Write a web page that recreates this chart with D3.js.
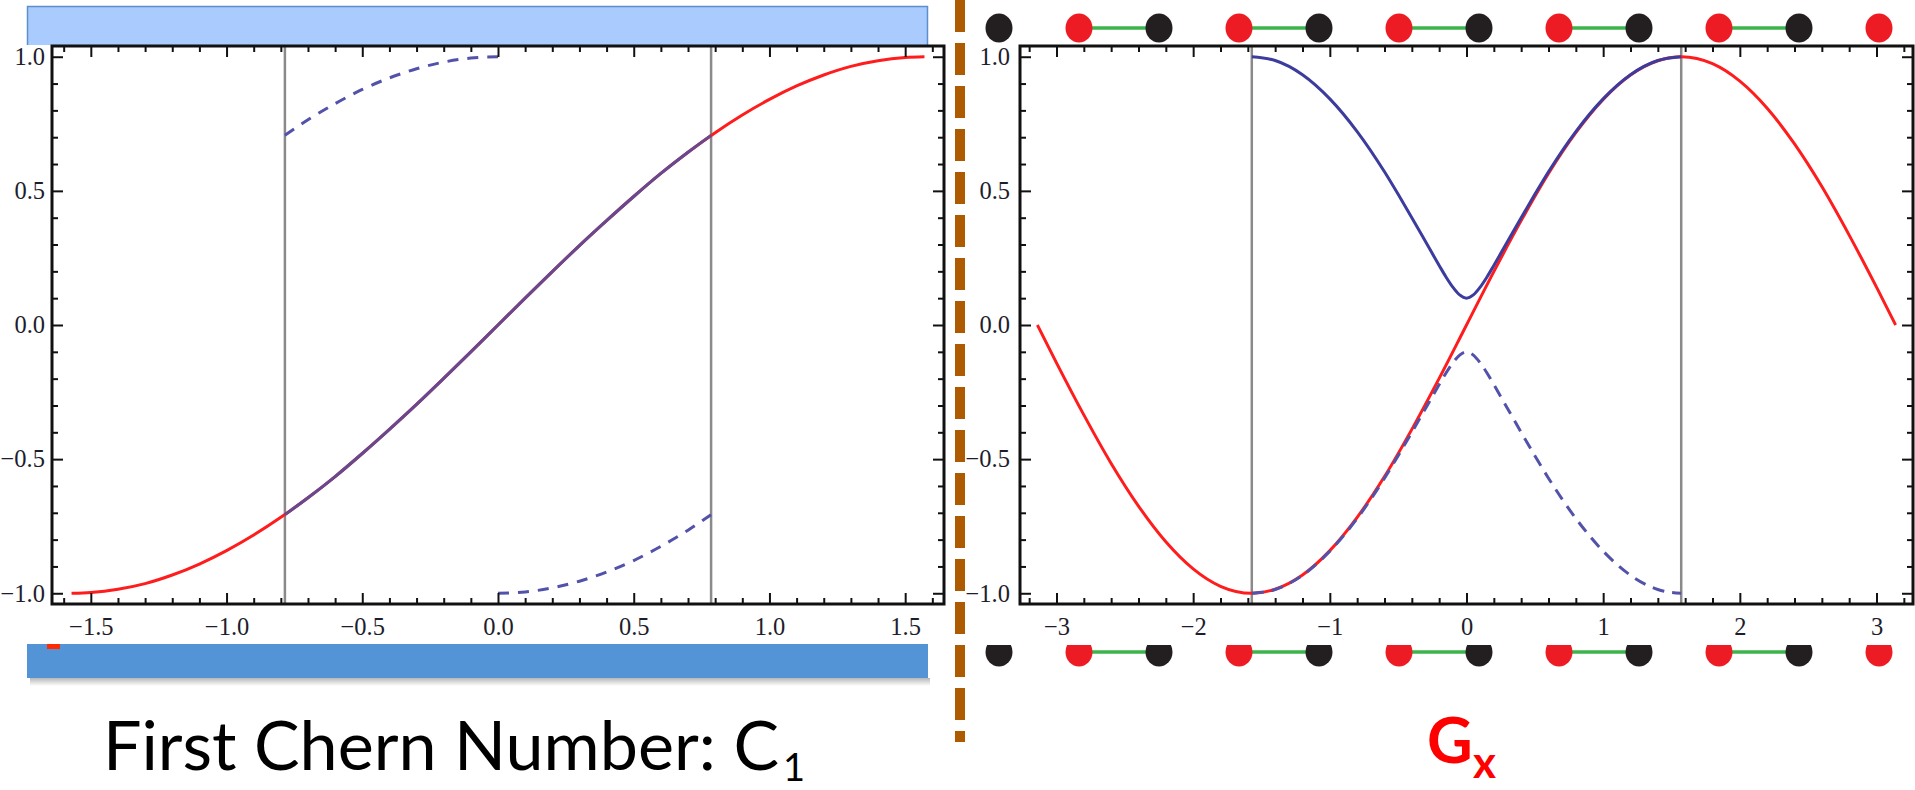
<!DOCTYPE html>
<html lang="en">
<head>
<meta charset="UTF-8">
<title>First Chern Number: C1 / Gx</title>
<style>
    body { margin: 0; background: #fff; }
    svg { display: block; }
    .frame .domain { display: none; }
    .frame .tick line { stroke: #111; stroke-width: 2px; }
    .frame text {
        font-family: "Liberation Serif", "Times New Roman", serif;
        font-size: 24.5px;
        fill: #1d1d2d;
    }
    .curve { fill: none; stroke-width: 3px; stroke-linejoin: round; stroke-linecap: butt; }
</style>
<script src="https://d3js.org/d3.v7.min.js"></script>
</head>
<body>
<svg width="1915" height="790"></svg>
<script>
    // ---- left plot (C1) ----
    var leftX   = [-1.571, -1.5, -1.4, -1.3, -1.2, -1.1, -1.0, -0.9, -0.8, -0.7, -0.6, -0.5, -0.4, -0.3, -0.2, -0.1,
                   0, 0.1, 0.2, 0.3, 0.4, 0.5, 0.6, 0.7, 0.8, 0.9, 1.0, 1.1, 1.2, 1.3, 1.4, 1.5, 1.571];
    var leftRed = [-1.0, -0.997, -0.985, -0.964, -0.932, -0.891, -0.841, -0.783, -0.717, -0.644, -0.565, -0.479, -0.389, -0.296, -0.199, -0.100,
                   0.0, 0.100, 0.199, 0.296, 0.389, 0.479, 0.565, 0.644, 0.717, 0.783, 0.841, 0.891, 0.932, 0.964, 0.985, 0.997, 1.0];
    var leftBlueX = [-0.785, -0.7, -0.6, -0.5, -0.4, -0.3, -0.2, -0.1, 0, 0.1, 0.2, 0.3, 0.4, 0.5, 0.6, 0.7, 0.785];
    var leftBlue  = [-0.707, -0.644, -0.565, -0.479, -0.389, -0.296, -0.199, -0.100, 0.0, 0.100, 0.199, 0.296, 0.389, 0.479, 0.565, 0.644, 0.707];
    var leftDashUpX  = [-0.785, -0.7, -0.6, -0.5, -0.4, -0.3, -0.2, -0.1, 0];
    var leftDashUp   = [0.707, 0.765, 0.825, 0.878, 0.921, 0.955, 0.980, 0.995, 1.0];
    var leftDashLowX = [0, 0.1, 0.2, 0.3, 0.4, 0.5, 0.6, 0.7, 0.785];
    var leftDashLow  = [-1.0, -0.995, -0.980, -0.955, -0.921, -0.878, -0.825, -0.765, -0.707];
    var leftCuts = [-0.785, 0.785];

    var leftXTicks  = [-1.5, -1.0, -0.5, 0.0, 0.5, 1.0, 1.5];
    var leftXLabels = ["\u22121.5", "\u22121.0", "\u22120.5", "0.0", "0.5", "1.0", "1.5"];

    // ---- right plot (Gx) ----
    var rightX   = [-3.14, -3.0, -2.8, -2.6, -2.4, -2.2, -2.0, -1.8, -1.571, -1.4, -1.2, -1.0, -0.8, -0.6, -0.4, -0.2,
                    0, 0.2, 0.4, 0.6, 0.8, 1.0, 1.2, 1.4, 1.571, 1.8, 2.0, 2.2, 2.4, 2.6, 2.8, 3.0, 3.14];
    var rightRed = [0.0, -0.141, -0.335, -0.516, -0.675, -0.808, -0.909, -0.974, -1.0, -0.985, -0.932, -0.841, -0.717, -0.565, -0.389, -0.199,
                    0.0, 0.199, 0.389, 0.565, 0.717, 0.841, 0.932, 0.985, 1.0, 0.974, 0.909, 0.808, 0.675, 0.516, 0.335, 0.141, 0.0];
    var bandX     = [-1.571, -1.4, -1.2, -1.0, -0.8, -0.6, -0.5, -0.4, -0.3, -0.2, -0.15, -0.1, -0.05,
                     0, 0.05, 0.1, 0.15, 0.2, 0.3, 0.4, 0.5, 0.6, 0.8, 1.0, 1.2, 1.4, 1.571];
    var bandUpper = [1.0, 0.986, 0.933, 0.843, 0.721, 0.571, 0.487, 0.400, 0.311, 0.222, 0.179, 0.141, 0.112,
                     0.100, 0.112, 0.141, 0.179, 0.222, 0.311, 0.400, 0.487, 0.571, 0.721, 0.843, 0.933, 0.986, 1.0];
    var bandLower = [-1.0, -0.986, -0.933, -0.843, -0.721, -0.571, -0.487, -0.400, -0.311, -0.222, -0.179, -0.141, -0.112,
                     -0.100, -0.112, -0.141, -0.179, -0.222, -0.311, -0.400, -0.487, -0.571, -0.721, -0.843, -0.933, -0.986, -1.0];
    var rightCuts = [-1.571, 1.571];

    var rightXTicks  = [-3, -2, -1, 0, 1, 2, 3];
    var rightXLabels = ["\u22123", "\u22122", "\u22121", "0", "1", "2", "3"];

    var yTicks  = [-1.0, -0.5, 0.0, 0.5, 1.0];
    var yLabels = ["\u22121.0", "\u22120.5", "0.0", "0.5", "1.0"];

    // ---- lattice pictures above / below the right plot ----
    var sites = ["B", "R", "B", "R", "B", "R", "B", "R", "B", "R", "B", "R"];
    var bonds = [[1, 2], [3, 4], [5, 6], [7, 8], [9, 10]];

    var svg = d3.select("svg");
    var defs = svg.append("defs");

    // slide decoration bars
    svg.append("rect")
        .attr("x", 27).attr("y", 6).attr("width", 901).attr("height", 39)
        .attr("fill", "#a9cbfd");
    svg.append("path")
        .attr("d", "M27.5,45 V6.5 H927.5 V45")
        .attr("fill", "none").attr("stroke", "#5d8fcf").attr("stroke-width", 1.5);

    var shadow = defs.append("linearGradient").attr("id", "shadow")
        .attr("x1", 0).attr("y1", 0).attr("x2", 0).attr("y2", 1);
    shadow.append("stop").attr("offset", "0%").attr("stop-color", "#000").attr("stop-opacity", 0.28);
    shadow.append("stop").attr("offset", "100%").attr("stop-color", "#000").attr("stop-opacity", 0);
    svg.append("rect")
        .attr("x", 30).attr("y", 678).attr("width", 900).attr("height", 8)
        .attr("fill", "url(#shadow)");
    svg.append("rect")
        .attr("x", 27).attr("y", 644).attr("width", 901).attr("height", 34)
        .attr("fill", "#5294d6");
    svg.append("rect")
        .attr("x", 47).attr("y", 644).attr("width", 13).attr("height", 5)
        .attr("fill", "#ff2a00");

    var y = d3.scaleLinear().domain([-1.04, 1.04]).range([604, 46]);
    var xLeft = d3.scaleLinear().domain([-1.643, 1.643]).range([52, 944]);
    var xRight = d3.scaleLinear().domain([-3.267, 3.267]).range([1020, 1913]);

    function minorTicks(lo, hi, step, majors) {
        return d3.range(Math.round(lo / step), Math.round(hi / step) + 1)
            .map(function(k) { return +(k * step).toFixed(2); })
            .filter(function(v) { return majors.indexOf(v) < 0; });
    }

    function drawPlot(x, xTicks, xLabels, xMinor, cuts, curves, yPad) {
        var g = svg.append("g");
        var x0 = x.range()[0], x1 = x.range()[1];
        var y0 = y.range()[0], y1 = y.range()[1];
        var yMinor = minorTicks(-1.0, 1.0, 0.1, yTicks);

        g.append("rect")
            .attr("x", x0).attr("y", y1).attr("width", x1 - x0).attr("height", y0 - y1)
            .attr("fill", "#fff");

        g.selectAll("line.cut")
            .data(cuts)
          .enter().append("line")
            .attr("class", "cut")
            .attr("x1", function(d) { return x(d); })
            .attr("x2", function(d) { return x(d); })
            .attr("y1", y1).attr("y2", y0)
            .attr("stroke", "#8a8a8a").attr("stroke-width", 2.5);

        var line = d3.line()
            .x(function(d) { return x(d[0]); })
            .y(function(d) { return y(d[1]); })
            .curve(d3.curveMonotoneX);

        curves.forEach(function(c) {
            g.append("path")
                .datum(d3.zip(c.x, c.y))
                .attr("class", "curve")
                .attr("stroke", c.color)
                .attr("stroke-width", c.width || 3)
                .attr("stroke-dasharray", c.dash || null)
                .attr("d", line);
        });

        // frame with inward ticks on all four sides
        var frame = g.append("g").attr("class", "frame");
        frame.append("g").attr("transform", "translate(0," + y0 + ")")
            .call(d3.axisBottom(x).tickValues(xTicks).tickSize(-11).tickSizeOuter(0).tickPadding(14)
                .tickFormat(function(d, i) { return xLabels[i]; }));
        frame.append("g").attr("transform", "translate(0," + y0 + ")")
            .call(d3.axisBottom(x).tickValues(xMinor).tickSize(-6).tickSizeOuter(0).tickFormat(""));
        frame.append("g").attr("transform", "translate(0," + y1 + ")")
            .call(d3.axisTop(x).tickValues(xTicks).tickSize(-11).tickSizeOuter(0).tickFormat(""));
        frame.append("g").attr("transform", "translate(0," + y1 + ")")
            .call(d3.axisTop(x).tickValues(xMinor).tickSize(-6).tickSizeOuter(0).tickFormat(""));
        frame.append("g").attr("transform", "translate(" + x0 + ",0)")
            .call(d3.axisLeft(y).tickValues(yTicks).tickSize(-11).tickSizeOuter(0).tickPadding(yPad)
                .tickFormat(function(d, i) { return yLabels[i]; }));
        frame.append("g").attr("transform", "translate(" + x0 + ",0)")
            .call(d3.axisLeft(y).tickValues(yMinor).tickSize(-6).tickSizeOuter(0).tickFormat(""));
        frame.append("g").attr("transform", "translate(" + x1 + ",0)")
            .call(d3.axisRight(y).tickValues(yTicks).tickSize(-11).tickSizeOuter(0).tickFormat(""));
        frame.append("g").attr("transform", "translate(" + x1 + ",0)")
            .call(d3.axisRight(y).tickValues(yMinor).tickSize(-6).tickSizeOuter(0).tickFormat(""));

        frame.append("rect")
            .attr("x", x0).attr("y", y1).attr("width", x1 - x0).attr("height", y0 - y1)
            .attr("fill", "none").attr("stroke", "#111").attr("stroke-width", 3);
    }

    var red = "#ff1c1c", blue = "#3c3c9e", purple = "#654a92", dashBlue = "#5252aa";

    drawPlot(xLeft, leftXTicks, leftXLabels, minorTicks(-1.6, 1.6, 0.1, leftXTicks), leftCuts, [
        { x: leftX, y: leftRed, color: red },
        { x: leftBlueX, y: leftBlue, color: purple },
        { x: leftDashUpX, y: leftDashUp, color: dashBlue, dash: "11,9", width: 2.6 },
        { x: leftDashLowX, y: leftDashLow, color: dashBlue, dash: "11,9", width: 2.6 }
    ], 7);

    drawPlot(xRight, rightXTicks, rightXLabels, minorTicks(-3.2, 3.2, 0.2, rightXTicks), rightCuts, [
        { x: rightX, y: rightRed, color: red },
        { x: bandX, y: bandUpper, color: blue, width: 2.6 },
        { x: bandX, y: bandLower, color: dashBlue, dash: "12,8", width: 2.6 }
    ], 10);

    // lattice chains
    var sx = d3.scalePoint().domain(d3.range(sites.length)).range([999, 1879]);
    defs.append("clipPath").attr("id", "belowPlot")
      .append("rect").attr("x", 960).attr("y", 645).attr("width", 955).attr("height", 60);

    [{ cy: 28, clip: null }, { cy: 652, clip: "url(#belowPlot)" }].forEach(function(row) {
        var r = svg.append("g").attr("clip-path", row.clip);
        r.selectAll("line.bond")
            .data(bonds)
          .enter().append("line")
            .attr("class", "bond")
            .attr("x1", function(d) { return sx(d[0]); })
            .attr("x2", function(d) { return sx(d[1]); })
            .attr("y1", row.cy).attr("y2", row.cy)
            .attr("stroke", "#3cb44b").attr("stroke-width", 3.5);
        r.selectAll("ellipse")
            .data(sites)
          .enter().append("ellipse")
            .attr("cx", function(d, i) { return sx(i); })
            .attr("cy", row.cy)
            .attr("rx", 13.5).attr("ry", 14.5)
            .attr("fill", function(d) { return d === "R" ? "#ed1c24" : "#231f20"; });
    });

    // divider
    svg.append("line")
        .attr("x1", 960).attr("x2", 960).attr("y1", 0).attr("y2", 742)
        .attr("stroke", "#ad5a00").attr("stroke-width", 10)
        .attr("stroke-dasharray", "32,11");

    // captions: size the left one so it spans the same width as the slide text
    var caption = svg.append("text")
        .attr("x", 103).attr("y", 770)
        .attr("font-family", "Lato, 'Open Sans', sans-serif")
        .attr("font-size", 66)
        .attr("fill", "#000")
        .text("First Chern Number: C");
    var natural = caption.node().getComputedTextLength();
    caption.attr("font-size", Math.min(72, 66 * 676 / natural));
    var capEnd = 103 + caption.node().getComputedTextLength();
    svg.append("text")
        .attr("x", capEnd + 4).attr("y", 781)
        .attr("font-family", "Lato, 'Open Sans', sans-serif")
        .attr("font-size", 38)
        .attr("fill", "#000")
        .text("1");

    svg.append("text")
        .attr("x", 1427).attr("y", 763)
        .attr("font-family", "Lato, 'Open Sans', sans-serif")
        .attr("font-weight", "bold").attr("font-size", 63)
        .attr("fill", "#ff0000")
        .text("G");
    svg.append("text")
        .attr("x", 1473).attr("y", 778)
        .attr("font-family", "Lato, 'Open Sans', sans-serif")
        .attr("font-weight", "bold").attr("font-size", 44)
        .attr("fill", "#ff0000")
        .text("x");
</script>
</body>
</html>
